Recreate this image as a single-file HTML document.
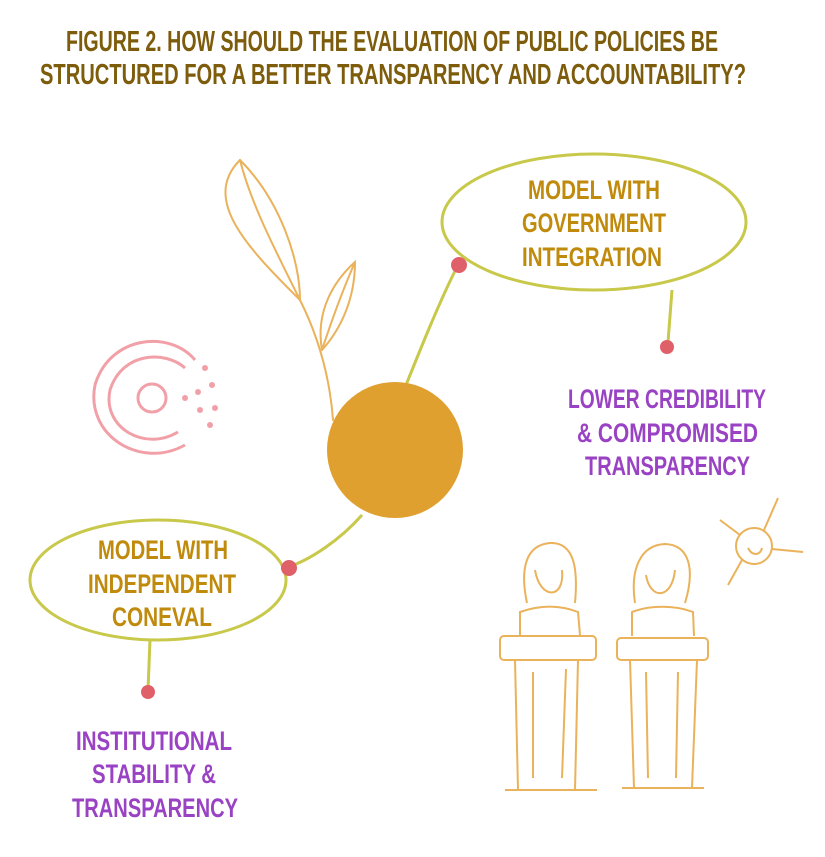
<!DOCTYPE html>
<html><head><meta charset="utf-8"><style>
html,body{margin:0;padding:0;background:#fff}
svg text{font-family:"Liberation Sans",sans-serif;font-weight:bold}
</style></head><body>
<svg width="825" height="852" viewBox="0 0 825 852" xmlns="http://www.w3.org/2000/svg">
<g fill="#7d5c0c" font-size="29">
<text x="66" y="51" textLength="652" lengthAdjust="spacingAndGlyphs">FIGURE 2. HOW SHOULD THE EVALUATION OF PUBLIC POLICIES BE</text>
<text x="40" y="84" textLength="706" lengthAdjust="spacingAndGlyphs">STRUCTURED FOR A BETTER TRANSPARENCY AND ACCOUNTABILITY?</text>
</g>
<!-- plant -->
<g fill="none" stroke="#eab25a" stroke-width="2" stroke-linecap="round">
<path d="M333 420 C330 380 320 340 300 300"/>
<path d="M300 300 C250 250 200 200 240 160 C280 200 300 260 300 300"/>
<path d="M300 300 C270 240 250 200 240 160"/>
<path d="M322 350 C315 310 335 280 355 262 C355 300 340 330 322 350"/>
<path d="M322 350 C335 310 345 285 355 262"/>
</g>
<!-- pink C -->
<g fill="none" stroke="#f2a0a8" stroke-width="3">
<path d="M195 360 C170 330 110 335 95 385 C85 435 140 470 185 445"/>
<path d="M185 368 C165 350 122 352 110 390 C102 428 145 452 178 432"/>
<circle cx="152" cy="398" r="14"/>
</g>
<g fill="#f2a0a8"><circle cx="205" cy="368" r="3"/><circle cx="212" cy="385" r="3"/><circle cx="198" cy="392" r="3"/><circle cx="215" cy="408" r="3"/><circle cx="200" cy="410" r="3"/><circle cx="185" cy="398" r="3"/><circle cx="210" cy="425" r="3"/></g>
<!-- ellipses -->
<g fill="none" stroke="#c8c84a" stroke-width="3">
<ellipse cx="594" cy="222" rx="152" ry="68"/>
<ellipse cx="158" cy="580" rx="128" ry="60"/>
<path d="M400 400 C420 350 440 300 458 265"/>
<path d="M362 515 C340 540 310 560 288 567"/>
<path d="M672 290 L668 342"/>
<path d="M150 640 L148 690"/>
</g>
<circle cx="395" cy="450" r="68" fill="#e0a030"/>
<g fill="#e0606a"><circle cx="459" cy="265" r="8"/><circle cx="667" cy="347" r="7"/><circle cx="289" cy="568" r="8"/><circle cx="148" cy="692" r="7"/></g>
<g fill="#c08a0c" font-size="27" lengthAdjust="spacingAndGlyphs">
<text x="528" y="199" textLength="132" lengthAdjust="spacingAndGlyphs">MODEL WITH</text>
<text x="522" y="232" textLength="144" lengthAdjust="spacingAndGlyphs">GOVERNMENT</text>
<text x="522" y="266" textLength="140" lengthAdjust="spacingAndGlyphs">INTEGRATION</text>
<text x="98" y="559" textLength="130" lengthAdjust="spacingAndGlyphs">MODEL WITH</text>
<text x="88" y="593" textLength="148" lengthAdjust="spacingAndGlyphs">INDEPENDENT</text>
<text x="112" y="626" textLength="100" lengthAdjust="spacingAndGlyphs">CONEVAL</text>
</g>
<g fill="#9a42c4" font-size="27">
<text x="568" y="408" textLength="198" lengthAdjust="spacingAndGlyphs">LOWER CREDIBILITY</text>
<text x="577" y="442" textLength="181" lengthAdjust="spacingAndGlyphs">&amp; COMPROMISED</text>
<text x="585" y="475" textLength="165" lengthAdjust="spacingAndGlyphs">TRANSPARENCY</text>
<text x="76" y="750" textLength="156" lengthAdjust="spacingAndGlyphs">INSTITUTIONAL</text>
<text x="92" y="783" textLength="124" lengthAdjust="spacingAndGlyphs">STABILITY &amp;</text>
<text x="72" y="817" textLength="166" lengthAdjust="spacingAndGlyphs">TRANSPARENCY</text>
</g>
<!-- podiums -->
<g fill="none" stroke="#eab25a" stroke-width="2">
<path d="M527 603 C520 570 525 545 550 543 C575 542 578 570 575 603"/>
<path d="M535 570 C540 600 565 600 562 570"/>
<path d="M520 635 L520 612 C540 605 560 605 578 612 L580 635"/>
<rect x="500" y="636" width="96" height="24" rx="4"/>
<path d="M515 660 L518 790 M578 660 L575 790 M533 672 L533 778 M566 669 L562 778 M505 790 L597 790"/>
<path d="M635 603 C630 570 640 545 665 544 C690 545 695 570 685 603"/>
<path d="M646 575 C650 600 672 600 675 570"/>
<path d="M632 636 L632 612 C650 605 675 605 693 612 L694 636"/>
<rect x="617" y="638" width="91" height="22" rx="4"/>
<path d="M630 660 L634 788 M697 660 L692 788 M646 672 L648 778 M678 672 L676 778 M622 788 L704 788"/>
<circle cx="754" cy="546" r="18"/>
<path d="M740 535 L720 520 M764 530 L778 498 M772 549 L803 552 M742 560 L728 585"/>
<path d="M748 548 C752 556 760 556 762 548"/>
</g>
</svg>
</body></html>
